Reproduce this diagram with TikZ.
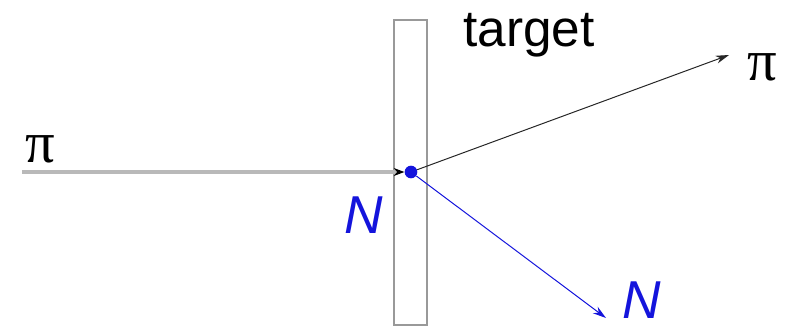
\documentclass[tikz,border=0pt]{standalone}
\usepackage{fontspec}
\setmainfont{Liberation Serif}
\setsansfont{Liberation Sans}
\usetikzlibrary{arrows.meta}
\definecolor{nblue}{RGB}{20,20,220}
\begin{document}
\begin{tikzpicture}[x=0.75pt,y=-0.75pt,
  lbl/.style={inner sep=0pt,font=\sffamily\fontsize{38.5}{42}\selectfont},
  nlbl/.style={inner sep=0pt,text=nblue,font=\sffamily\itshape\fontsize{40}{44}\selectfont},
  pilbl/.style={inner sep=0pt,font=\rmfamily\fontsize{44}{46}\selectfont},
  tip/.style={-{Stealth[length=10pt,width=6pt]}}]
\useasboundingbox (0,0) rectangle (789,328);
\draw[gray!80,line width=1.1pt] (394,20) rectangle (427,325);
\coordinate (in) at (22,172);
\coordinate (pout) at (729,55);
\coordinate (nout) at (606,318);
\node[circle,fill=nblue,inner sep=0pt,minimum size=9.5pt] (v) at (411,172) {};
\draw[gray!55,line width=2.4pt] (in) -- (398,172);
\draw[-{Stealth[length=8pt,width=6pt,black]},black,line width=1pt] (398,172) -- (v.west);
\draw[tip,black!85,line width=0.75pt] (v) -- (pout);
\draw[tip,nblue,line width=0.75pt] (v) -- (nout);
\node[pilbl] (pil) at (40,149) {π};
\node[pilbl] (pir) at (762,67) {π};
\node[nlbl] (nl) at (364,215) {N};
\node[nlbl] (nr) at (642,300) {N};
\node[lbl] (tg) at (529,35) {target};
\end{tikzpicture}
\end{document}
